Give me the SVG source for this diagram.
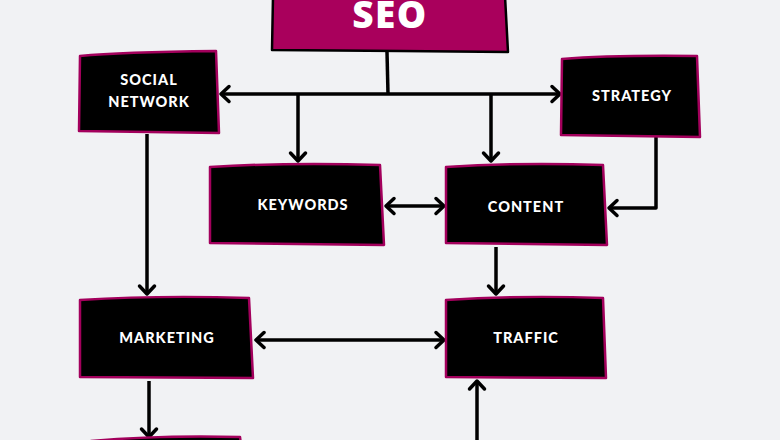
<svg xmlns="http://www.w3.org/2000/svg" width="780" height="440" viewBox="0 0 780 440">
<style>
.box{fill:#000;stroke:#a3005c;stroke-width:2.5;stroke-linejoin:round}
.lbl{font-family:"Lato","Liberation Sans",sans-serif;font-weight:900;font-size:14.5px;letter-spacing:1px;fill:#fff;text-anchor:middle}
.c{fill:none;stroke:#000;stroke-width:3.5;stroke-linejoin:round}
</style>
<defs>
<marker id="a" markerUnits="userSpaceOnUse" markerWidth="18" markerHeight="20" refX="14" refY="10" orient="auto-start-reverse" viewBox="0 0 18 20"><path d="M6 2.5L14 10L6 17.5" fill="none" stroke="#000" stroke-width="3.5" stroke-linecap="round" stroke-linejoin="round"/></marker>
</defs>
<rect width="780" height="440" fill="#f1f2f4"/>
<g id="connectors">
<path class="c" d="M387 52L388 94"/>
<path class="c" d="M221 94H560" marker-start="url(#a)" marker-end="url(#a)"/>
<path class="c" d="M298 94V161" marker-end="url(#a)"/>
<path class="c" d="M491 94V161" marker-end="url(#a)"/>
<path class="c" d="M656 137V208H609" marker-end="url(#a)"/>
<path class="c" d="M386 206H444" marker-start="url(#a)" marker-end="url(#a)"/>
<path class="c" d="M147 134V294" marker-end="url(#a)"/>
<path class="c" d="M496 247V294" marker-end="url(#a)"/>
<path class="c" d="M256 340H444" marker-start="url(#a)" marker-end="url(#a)"/>
<path class="c" d="M149 381V437" marker-end="url(#a)"/>
<path class="c" d="M477 440V381" marker-end="url(#a)"/>
</g>
<g id="seo">
<path d="M273 -4L272 50L400 51L508 52L505 -4Z" fill="#a9005c" stroke="#000" stroke-width="2.5" stroke-linejoin="round"/>
<text x="390" y="27.5" font-family="'Open Sans','Liberation Sans',sans-serif" font-weight="800" font-size="37" letter-spacing="1.5" fill="#fff" text-anchor="middle">SEO</text>
</g>
<g id="social-network">
<path class="box" d="M80 56Q120 52 216 51L219 133L79 131Z"/>
<text class="lbl" x="149" y="85">SOCIAL</text>
<text class="lbl" x="149" y="107">NETWORK</text>
</g>
<g id="strategy">
<path class="box" d="M562 59Q610 55 697 56L700 137L561 135Z"/>
<text class="lbl" x="632" y="101">STRATEGY</text>
</g>
<g id="keywords">
<path class="box" d="M210 167Q290 162 380 165L384 245L210 243Z"/>
<text class="lbl" x="303" y="210">KEYWORDS</text>
</g>
<g id="content">
<path class="box" d="M446 167Q520 162 603 165L607 245L446 243Z"/>
<text class="lbl" x="526" y="212">CONTENT</text>
</g>
<g id="marketing">
<path class="box" d="M80 300Q160 295 249 298L253 378L80 377Z"/>
<text class="lbl" x="167" y="343">MARKETING</text>
</g>
<g id="traffic">
<path class="box" d="M446 300Q520 295 603 298L606 378L446 377Z"/>
<text class="lbl" x="526" y="343">TRAFFIC</text>
</g>
<g id="bottom-box">
<path class="box" d="M91 441Q160 435 240 437L241 445H91Z"/>
</g>
</svg>
